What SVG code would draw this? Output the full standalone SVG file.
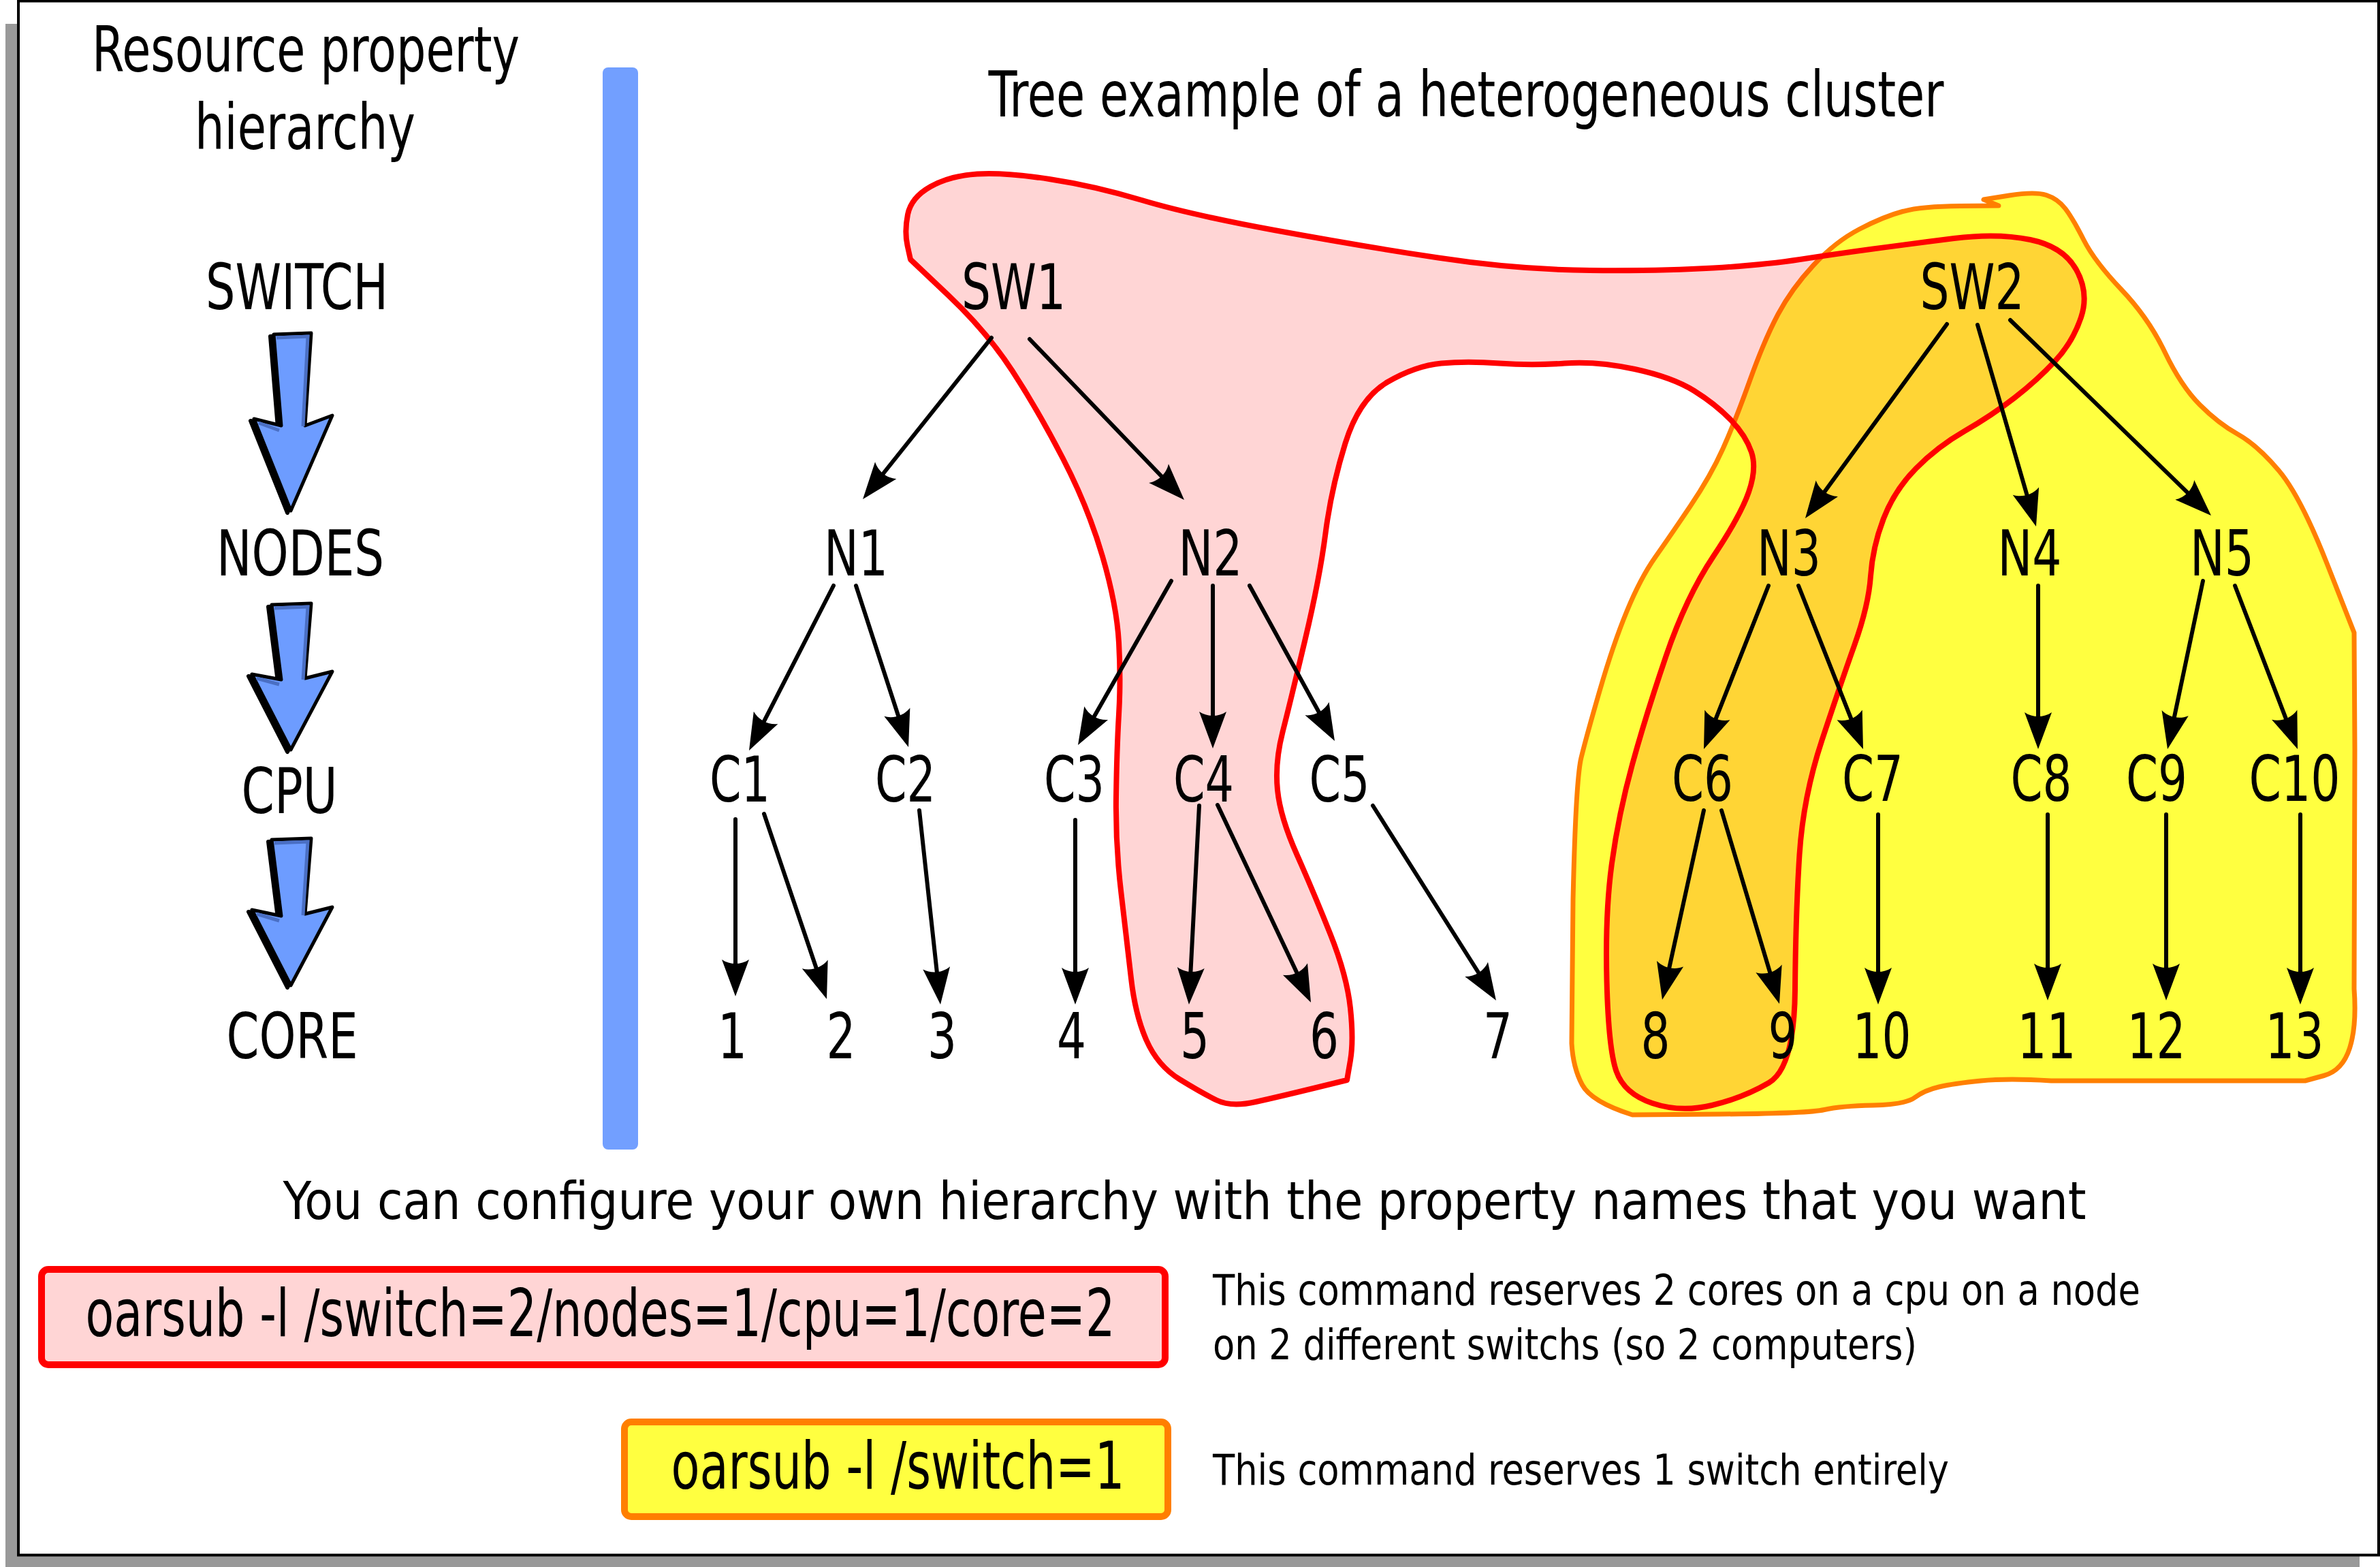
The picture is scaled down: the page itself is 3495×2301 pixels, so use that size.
<svg xmlns="http://www.w3.org/2000/svg" width="3495" height="2301" viewBox="0 0 3495 2301">
<style>
text{font-family:'DejaVu Sans Condensed','DejaVu Sans',sans-serif;font-stretch:condensed;fill:#000}
.lbl{font-size:93px;text-anchor:middle}
.cmd{font-size:96px;text-anchor:middle}
.note{font-size:62px}
.edge{fill:none;stroke:#000;stroke-width:6;stroke-linecap:round;marker-end:url(#ah)}
.barrow{fill:#6d9cff;stroke:#000;stroke-width:5;stroke-linejoin:round}
.bshadow{fill:#000;stroke:#000;stroke-width:6;stroke-linejoin:round}
.binner{fill:none;stroke:#4a6fc4;stroke-width:5}
</style>
<defs>
<marker id="ah" markerUnits="userSpaceOnUse" orient="auto" markerWidth="60" markerHeight="50" viewBox="-40 -25 60 50" refX="0" refY="0" overflow="visible">
<path d="M16,0 L-38,20 C-30,8 -30,-8 -38,-20 Z" fill="#000"/>
</marker>
</defs>
<g id="frame">
<rect x="8" y="35" width="3457" height="2280" fill="#999"/>
<rect x="27" y="1.5" width="3466" height="2282" fill="#fff" stroke="#000" stroke-width="4"/>
</g>
<g id="hierarchy">
<text class="lbl" x="449" y="105" textLength="628" lengthAdjust="spacingAndGlyphs">Resource property</text>
<text class="lbl" x="448" y="219" textLength="324" lengthAdjust="spacingAndGlyphs">hierarchy</text>
<g id="lvl-switch"><text class="lbl" x="436" y="454" textLength="268" lengthAdjust="spacingAndGlyphs">SWITCH</text></g>
<g id="lvl-nodes"><text class="lbl" x="441" y="845" textLength="246" lengthAdjust="spacingAndGlyphs">NODES</text></g>
<g id="lvl-cpu"><text class="lbl" x="425" y="1194" textLength="141" lengthAdjust="spacingAndGlyphs">CPU</text></g>
<g id="lvl-core"><text class="lbl" x="429" y="1554" textLength="193" lengthAdjust="spacingAndGlyphs">CORE</text></g>
<g id="hier-arrows">
<polygon class="bshadow" transform="translate(-5,3)" points="402,491 457,489 448,625 488,610 427,750 373,615 413,625"/>
<polygon class="barrow" points="402,491 457,489 448,625 488,610 427,750 373,615 413,625"/>
<polyline class="binner" points="406,496 452,494 445,626"/>
<polyline class="binner" points="380,621 410,632"/>
<polygon class="bshadow" transform="translate(-5,3)" points="399,888 457,886 448,996 488,986 427,1101 370,990 413,998"/>
<polygon class="barrow" points="399,888 457,886 448,996 488,986 427,1101 370,990 413,998"/>
<polyline class="binner" points="403,893 452,891 445,998"/>
<polyline class="binner" points="377,996 410,1005"/>
<polygon class="bshadow" transform="translate(-5,3)" points="399,1233 457,1231 448,1342 488,1332 427,1447 370,1336 413,1345"/>
<polygon class="barrow" points="399,1233 457,1231 448,1342 488,1332 427,1447 370,1336 413,1345"/>
<polyline class="binner" points="403,1238 452,1236 445,1344"/>
<polyline class="binner" points="377,1342 410,1352"/>
</g>
</g>
<rect id="separator" x="885" y="99" width="52" height="1589" rx="8" fill="#729fff"/>
<text class="lbl" x="2153" y="171" textLength="1403" lengthAdjust="spacingAndGlyphs">Tree example of a heterogeneous cluster</text>
<g id="regions">
<path id="switch-region" fill="#ffff40" stroke="#ff7f00" stroke-width="7" stroke-linejoin="round" d="M2913,293 L2950.5,287 Q2988,281 3005,286.5 Q3022,292 3033,306.5 Q3044,321 3060,352.5 Q3076,384 3115.5,425.5 Q3155,467 3179,517 Q3203,567 3230.5,594.5 Q3258,622 3286,637.5 Q3314,653 3346,690.5 Q3378,728 3417.5,828.5 L3457,929 L3458,1100 L3457,1452 Q3461,1506 3450.5,1539 Q3440,1572 3412.5,1579.5 L3385,1587 L3012,1587 Q2949,1583 2909,1587 Q2869,1591 2847.5,1596 Q2826,1601 2812,1611.5 Q2798,1622 2750.5,1623 Q2703,1624 2679,1629.5 Q2655,1635 2526,1636 L2397,1637 Q2337,1618 2323.5,1593 Q2310,1568 2308,1532 L2310,1320.5 Q2314,1145 2322,1112.5 Q2330,1080 2349.5,1013 Q2369,946 2389,897.5 Q2409,849 2430.5,818.5 Q2452,788 2482,743.5 Q2512,699 2530,659 Q2548,619 2569.5,559 Q2591,499 2611,461.5 Q2631,424 2663,389.5 Q2695,355 2730.5,336.5 Q2766,318 2794,310.5 Q2822,303 2878.5,302.5 L2935,302 Z"/>
<path id="reservation-region" fill="#ff0000" fill-opacity="0.165" stroke="#ff0000" stroke-width="8" stroke-linejoin="round" d="M1337,381 L1332.5,360.5 Q1328,340 1333,315 Q1338,290 1366.5,274 Q1395,258 1435,255.5 Q1475,253 1541,263 Q1607,273 1677,294 Q1747,315 1871.5,338 Q1996,361 2112,378.5 Q2228,396 2334.5,397 Q2441,398 2516,393.5 Q2591,389 2643,381 Q2695,373 2750.5,365.5 Q2806,358 2869.5,350 Q2933,342 2981.5,352 Q3030,362 3049,396 Q3068,430 3056,466 Q3044,502 3018,530 Q2992,558 2958.5,584 Q2925,610 2885,633 Q2845,656 2813.5,688 Q2782,720 2766,761.5 Q2750,803 2747,846 Q2744,889 2723.5,946.5 Q2703,1004 2675.5,1087 Q2648,1170 2642.5,1255 Q2637,1340 2636,1454 Q2635,1568 2597.5,1590 Q2560,1612 2514,1623 Q2468,1634 2426.5,1620 Q2385,1606 2373.5,1573 Q2362,1540 2359.5,1440 Q2357,1340 2367,1267.5 Q2377,1195 2397,1122.5 Q2417,1050 2446.5,963.5 Q2476,877 2516,817 Q2556,757 2568,722.5 Q2580,688 2572,664 Q2564,640 2542,617 Q2520,594 2488,574 Q2456,554 2400.5,542 Q2345,530 2297.5,533.5 Q2250,537 2202,533.5 Q2154,530 2116.5,533.5 Q2079,537 2037.5,561 Q1996,585 1975.5,651 Q1955,717 1946.5,783 Q1938,849 1916.5,939.5 Q1895,1030 1883.5,1075 Q1872,1120 1876,1160 Q1880,1200 1904.5,1255 Q1929,1310 1953.5,1371.5 Q1978,1433 1983,1480.5 Q1988,1528 1983,1557 L1978,1586 L1929,1598 Q1880,1610 1844,1618 Q1808,1626 1786.5,1615.5 Q1765,1605 1732.5,1585 Q1700,1565 1683.5,1527.5 Q1667,1490 1661,1436.5 Q1655,1383 1646.5,1312 Q1638,1241 1639,1170.5 Q1640,1100 1643,1049 Q1646,998 1643,943.5 Q1640,889 1619,817 Q1598,745 1561,673.5 Q1524,602 1486.5,544.5 Q1449,487 1393,434 Z"/>
</g>
<g id="connectors">
<path class="edge" d="M1456,496 L1277,720.5"/>
<path class="edge" d="M1512,498 L1727.9,722.5"/>
<path class="edge" d="M1224,860 L1107.3,1087.8"/>
<path class="edge" d="M1257,860 L1329.1,1081.8"/>
<path class="edge" d="M1720,853 L1590.9,1080.1"/>
<path class="edge" d="M1781,860 L1781,1083"/>
<path class="edge" d="M1835,860 L1952.3,1074"/>
<path class="edge" d="M1080,1203 L1080,1447"/>
<path class="edge" d="M1122,1195 L1208.9,1451.8"/>
<path class="edge" d="M1350,1190 L1379.3,1459.1"/>
<path class="edge" d="M1579,1204 L1579,1459"/>
<path class="edge" d="M1761,1183 L1746.8,1459"/>
<path class="edge" d="M1788,1182 L1918.2,1457.5"/>
<path class="edge" d="M2016,1183 L2188.4,1455.5"/>
<path class="edge" d="M2859,476 L2660.4,748.1"/>
<path class="edge" d="M2904,477 L2985.5,757.6"/>
<path class="edge" d="M2952,470 L3235.5,745.8"/>
<path class="edge" d="M2597,860 L2507.9,1085.1"/>
<path class="edge" d="M2641,860 L2730.1,1085.1"/>
<path class="edge" d="M2993,860 L2993,1084"/>
<path class="edge" d="M3235,853 L3186.3,1084.3"/>
<path class="edge" d="M3282,860 L3368.3,1085.1"/>
<path class="edge" d="M2502,1190 L2444.4,1452.4"/>
<path class="edge" d="M2528,1190 L2608.4,1458.7"/>
<path class="edge" d="M2758,1196 L2758,1459"/>
<path class="edge" d="M3007,1196 L3007,1453"/>
<path class="edge" d="M3181,1196 L3181,1453"/>
<path class="edge" d="M3378,1196 L3378,1459"/>
</g>
<g id="tree-nodes">
<g id="sw1"><text class="lbl" x="1488.5" y="454" textLength="153" lengthAdjust="spacingAndGlyphs">SW1</text></g>
<g id="sw2"><text class="lbl" x="2896" y="454" textLength="153" lengthAdjust="spacingAndGlyphs">SW2</text></g>
<g id="n1"><text class="lbl" x="1257" y="845" textLength="94" lengthAdjust="spacingAndGlyphs">N1</text></g>
<g id="n2"><text class="lbl" x="1777.5" y="845" textLength="94" lengthAdjust="spacingAndGlyphs">N2</text></g>
<g id="n3"><text class="lbl" x="2627" y="845" textLength="94" lengthAdjust="spacingAndGlyphs">N3</text></g>
<g id="n4"><text class="lbl" x="2980.5" y="845" textLength="94" lengthAdjust="spacingAndGlyphs">N4</text></g>
<g id="n5"><text class="lbl" x="3263" y="845" textLength="94" lengthAdjust="spacingAndGlyphs">N5</text></g>
<g id="c1"><text class="lbl" x="1086.5" y="1177" textLength="89" lengthAdjust="spacingAndGlyphs">C1</text></g>
<g id="c2"><text class="lbl" x="1329.5" y="1177" textLength="89" lengthAdjust="spacingAndGlyphs">C2</text></g>
<g id="c3"><text class="lbl" x="1577.5" y="1177" textLength="89" lengthAdjust="spacingAndGlyphs">C3</text></g>
<g id="c4"><text class="lbl" x="1767.5" y="1177" textLength="89" lengthAdjust="spacingAndGlyphs">C4</text></g>
<g id="c5"><text class="lbl" x="1967" y="1177" textLength="89" lengthAdjust="spacingAndGlyphs">C5</text></g>
<g id="c6"><text class="lbl" x="2500" y="1176" textLength="90" lengthAdjust="spacingAndGlyphs">C6</text></g>
<g id="c7"><text class="lbl" x="2750" y="1176" textLength="90" lengthAdjust="spacingAndGlyphs">C7</text></g>
<g id="c8"><text class="lbl" x="2997.5" y="1176" textLength="90" lengthAdjust="spacingAndGlyphs">C8</text></g>
<g id="c9"><text class="lbl" x="3167" y="1176" textLength="90" lengthAdjust="spacingAndGlyphs">C9</text></g>
<g id="c10"><text class="lbl" x="3369.5" y="1176" textLength="134" lengthAdjust="spacingAndGlyphs">C10</text></g>
<g id="k1"><text class="lbl" x="1075.5" y="1554" textLength="43" lengthAdjust="spacingAndGlyphs">1</text></g>
<g id="k2"><text class="lbl" x="1235" y="1554" textLength="43" lengthAdjust="spacingAndGlyphs">2</text></g>
<g id="k3"><text class="lbl" x="1383.5" y="1554" textLength="43" lengthAdjust="spacingAndGlyphs">3</text></g>
<g id="k4"><text class="lbl" x="1573.5" y="1554" textLength="43" lengthAdjust="spacingAndGlyphs">4</text></g>
<g id="k5"><text class="lbl" x="1754.5" y="1554" textLength="43" lengthAdjust="spacingAndGlyphs">5</text></g>
<g id="k6"><text class="lbl" x="1944.5" y="1554" textLength="43" lengthAdjust="spacingAndGlyphs">6</text></g>
<g id="k7"><text class="lbl" x="2199.5" y="1554" textLength="43" lengthAdjust="spacingAndGlyphs">7</text></g>
<g id="k8"><text class="lbl" x="2431" y="1554" textLength="43" lengthAdjust="spacingAndGlyphs">8</text></g>
<g id="k9"><text class="lbl" x="2618" y="1554" textLength="43" lengthAdjust="spacingAndGlyphs">9</text></g>
<g id="k10"><text class="lbl" x="2763.5" y="1554" textLength="86" lengthAdjust="spacingAndGlyphs">10</text></g>
<g id="k11"><text class="lbl" x="3005.5" y="1554" textLength="86" lengthAdjust="spacingAndGlyphs">11</text></g>
<g id="k12"><text class="lbl" x="3166.5" y="1554" textLength="86" lengthAdjust="spacingAndGlyphs">12</text></g>
<g id="k13"><text class="lbl" x="3369.5" y="1554" textLength="86" lengthAdjust="spacingAndGlyphs">13</text></g>
</g>
<text x="1739.5" y="1790" style="font-size:76px;text-anchor:middle" textLength="2648" lengthAdjust="spacingAndGlyphs">You can configure your own hierarchy with the property names that you want</text>
<g id="cmd-red">
<rect x="61" y="1864" width="1650" height="140" rx="10" fill="#ffd5d5" stroke="#ff0000" stroke-width="10"/>
<text class="cmd" x="881.5" y="1962" textLength="1512" lengthAdjust="spacingAndGlyphs">oarsub -l /switch=2/nodes=1/cpu=1/core=2</text>
</g>
<g id="cmd-red-note">
<text class="note" x="1781" y="1916" textLength="1362" lengthAdjust="spacingAndGlyphs">This command reserves 2 cores on a cpu on a node</text>
<text class="note" x="1781" y="1996" textLength="1034" lengthAdjust="spacingAndGlyphs">on 2 different switchs (so 2 computers)</text>
</g>
<g id="cmd-yellow">
<rect x="917" y="2088" width="798" height="139" rx="10" fill="#ffff40" stroke="#ff7f00" stroke-width="10"/>
<text class="cmd" x="1318.5" y="2186" textLength="666" lengthAdjust="spacingAndGlyphs">oarsub -l /switch=1</text>
</g>
<g id="cmd-yellow-note">
<text class="note" x="1781" y="2180" textLength="1081" lengthAdjust="spacingAndGlyphs">This command reserves 1 switch entirely</text>
</g>
</svg>
